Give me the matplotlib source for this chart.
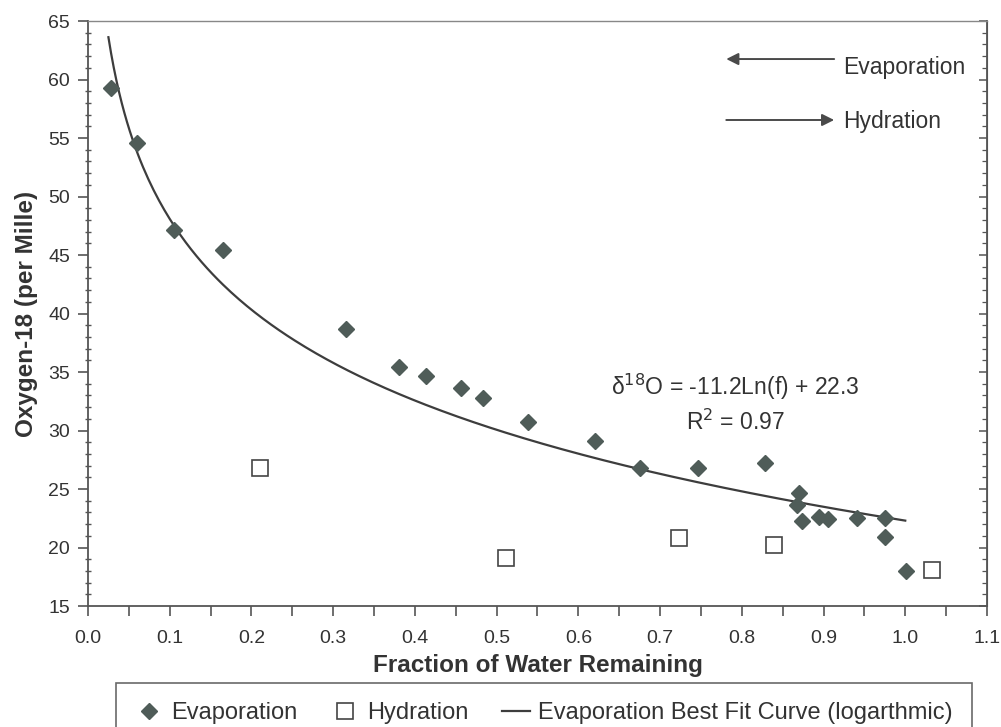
import numpy as np
import matplotlib
matplotlib.use("Agg")
import matplotlib.pyplot as plt
from matplotlib.ticker import MultipleLocator, FormatStrFormatter

plt.rcParams['font.family'] = ['Liberation Sans', 'DejaVu Sans']

# evaporation samples (fraction of water remaining, delta 18O)
evap_f = [0.028, 0.060, 0.105, 0.165, 0.316, 0.380, 0.413, 0.456, 0.483, 0.539,
          0.620, 0.675, 0.746, 0.828, 0.870, 0.868, 0.874, 0.895, 0.906, 0.941,
          0.975, 0.975, 1.001]
evap_o18 = [59.3, 54.6, 47.1, 45.4, 38.7, 35.4, 34.7, 33.6, 32.8, 30.7,
            29.1, 26.8, 26.8, 27.2, 24.7, 23.6, 22.3, 22.6, 22.4, 22.5,
            22.5, 20.9, 18.0]

# hydration samples
hyd_f = [0.210, 0.512, 0.723, 0.839, 1.033]
hyd_o18 = [26.8, 19.1, 20.8, 20.2, 18.1]

# log fit: d18O = a*ln(f) + b
fit_a = -11.2
fit_b = 22.3
fit_range = (0.025, 1.0)

dark = '#4f5c58'
txt = '#333333'
spine = '#555555'

fig = plt.figure(figsize=(10.01, 7.27), dpi=100)
ax = fig.add_axes([0.0879, 0.1664, 0.8981, 0.8047])

fx = np.linspace(fit_range[0], fit_range[1], 300)
ax.plot(fx, fit_a * np.log(fx) + fit_b, color='#3d3d3d', lw=1.6,
        label='Evaporation Best Fit Curve (logarthmic)', zorder=2)
ax.plot(evap_f, evap_o18, linestyle='none', marker='D', ms=8, color=dark,
        mec=dark, label='Evaporation', zorder=3)
ax.plot(hyd_f, hyd_o18, linestyle='none', marker='s', ms=11.5, mfc='white',
        mec='#444444', mew=1.2, label='Hydration', zorder=3)

ax.set_xlim(0, 1.1)
ax.set_ylim(15, 65)
ax.xaxis.set_major_locator(MultipleLocator(0.1))
ax.xaxis.set_minor_locator(MultipleLocator(0.05))
ax.xaxis.set_major_formatter(FormatStrFormatter('%.1f'))
ax.yaxis.set_major_locator(MultipleLocator(5))
ax.yaxis.set_minor_locator(MultipleLocator(1))

for s in ax.spines.values():
    s.set_color(spine)
    s.set_linewidth(1.3)
ax.spines['top'].set_color('#888888')
ax.spines['top'].set_linewidth(1.0)

ax.tick_params(axis='x', which='both', direction='out', length=7, width=1.2,
               color=spine, labelsize=14, labelcolor=txt, pad=10)
ax.tick_params(axis='y', which='major', direction='out', length=7, width=1.2,
               color=spine, labelsize=14, labelcolor=txt, pad=6)
ax.tick_params(axis='y', which='minor', direction='inout', length=5, width=1.0,
               color=spine)

# inward ticks along the right edge
sec = ax.secondary_yaxis('right')
sec.yaxis.set_major_locator(MultipleLocator(5))
sec.yaxis.set_minor_locator(MultipleLocator(1))
sec.tick_params(which='major', direction='in', length=6, width=1.1, color=spine,
                labelright=False)
sec.tick_params(which='minor', direction='in', length=3.5, width=0.9, color=spine)
sec.spines['right'].set_color(spine)

ax.set_xlabel('Fraction of Water Remaining', fontsize=17.5, fontweight='bold',
              color=txt, labelpad=5)
ax.set_ylabel('Oxygen-18 (per Mille)', fontsize=17.5, fontweight='bold',
              color=txt, labelpad=7)

ax.text(0.792, 33.7, 'δ$^{18}$O = -11.2Ln(f) + 22.3', ha='center', va='center',
        fontsize=16.5, color=txt)
ax.text(0.792, 30.7, 'R$^2$ = 0.97', ha='center', va='center', fontsize=16.5, color=txt)

ax.annotate('', xy=(0.781, 61.75), xytext=(0.913, 61.75),
            arrowprops=dict(arrowstyle='-|>', color='#4a4a4a', lw=1.4,
                            mutation_scale=18, shrinkA=0, shrinkB=0))
ax.annotate('', xy=(0.913, 56.54), xytext=(0.781, 56.54),
            arrowprops=dict(arrowstyle='-|>', color='#4a4a4a', lw=1.4,
                            mutation_scale=18, shrinkA=0, shrinkB=0))
ax.text(0.924, 61.0, 'Evaporation', ha='left', va='center', fontsize=16.5, color=txt)
ax.text(0.924, 56.4, 'Hydration', ha='left', va='center', fontsize=16.5, color=txt)

h, l = ax.get_legend_handles_labels()
order = [1, 2, 0]
leg = fig.legend([h[i] for i in order], [l[i] for i in order], ncol=3,
                 loc='upper left', bbox_to_anchor=(0.1159, 1 - 683 / 727),
                 fontsize=17, frameon=True, fancybox=False, borderpad=0.8,
                 columnspacing=1.4, handletextpad=0.35, handlelength=1.2,
                 borderaxespad=0)
leg.get_frame().set_edgecolor('#444444')
leg.get_frame().set_linewidth(1.2)
for t in leg.get_texts():
    t.set_color(txt)

fig.savefig('out.png', dpi=100)
